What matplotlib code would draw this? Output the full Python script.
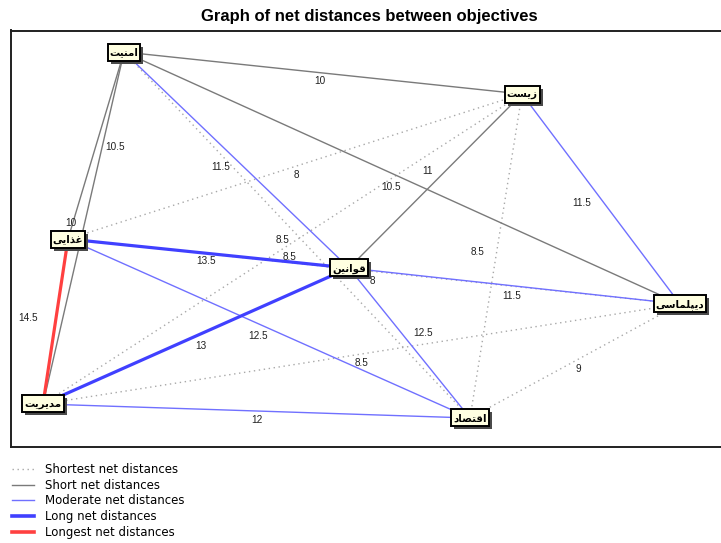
import matplotlib
matplotlib.use("Agg")
import matplotlib.pyplot as plt
from matplotlib.patches import Rectangle
from matplotlib.lines import Line2D

# ── Data ─────────────────────────────────────────────────────────────────────
node_names = ["امنیت", "زیست", "غذایی", "قوانین", "دیپلماسی", "مدیریت", "اقتصاد"]
# layout of the graph (in pixel-like units of the original drawing)
node_x = [124, 522, 68, 349, 680, 43, 470]
node_y = [52, 94, 239, 268, 304, 404, 418]

edge_src = [0, 0, 0, 0, 0, 0, 1, 1, 1, 1, 1, 2, 2, 2, 2, 3, 3, 3, 4, 4, 5]
edge_dst = [1, 2, 3, 4, 5, 6, 2, 3, 4, 5, 6, 3, 4, 5, 6, 4, 5, 6, 5, 6, 6]
edge_val = [10, 10.5, 11.5, 10.5, 10, 8.5, 8, 11, 11.5, 8.5, 8.5,
            13.5, 8, 14.5, 12.5, 11.5, 13, 12.5, 8.5, 9, 12]

cat_names = ["Shortest net distances", "Short net distances", "Moderate net distances",
             "Long net distances", "Longest net distances"]

# ── Styles ───────────────────────────────────────────────────────────────────
cat_styles = [
    dict(color="#a8a8a8", lw=1.0, ls=(0, (1, 2.6))),
    dict(color="#7a7a7a", lw=1.0, ls="-"),
    dict(color="#7070ff", lw=1.0, ls="-"),
    dict(color="#4040ff", lw=2.3, ls="-"),
    dict(color="#ff4040", lw=2.3, ls="-"),
]
# nudges of the value labels from the edge midpoints
label_nudge = [(-3, 8), (19, 1), (-16, 7), (-11, 9), (-13, -5), (-14, 5),
               (1, 8), (-8, -10), (-19, 4), (7, 8), (-18, -4),
               (-2, 8), (-2, 10), (-27, -3), (-11, 8),
               (-3, 10), (5, 10), (14, -10), (0, 9), (3, 8), (0, 9)]


def category(v):
    if v < 10:
        return 0
    if v <= 11:
        return 1
    if v <= 12.5:
        return 2
    if v < 14.5:
        return 3
    return 4


# ── Minimal Arabic/Persian shaping (matplotlib has no complex text layout) ──
FORMS = {  # isolated, final, initial, medial
    "ا": ("\uFE8D", "\uFE8E", None, None),
    "د": ("\uFEA9", "\uFEAA", None, None),
    "ذ": ("\uFEAB", "\uFEAC", None, None),
    "ر": ("\uFEAD", "\uFEAE", None, None),
    "ز": ("\uFEAF", "\uFEB0", None, None),
    "و": ("\uFEED", "\uFEEE", None, None),
    "ت": ("\uFE95", "\uFE96", "\uFE97", "\uFE98"),
    "س": ("\uFEB1", "\uFEB2", "\uFEB3", "\uFEB4"),
    "ص": ("\uFEB9", "\uFEBA", "\uFEBB", "\uFEBC"),
    "غ": ("\uFECD", "\uFECE", "\uFECF", "\uFED0"),
    "ق": ("\uFED5", "\uFED6", "\uFED7", "\uFED8"),
    "ل": ("\uFEDD", "\uFEDE", "\uFEDF", "\uFEE0"),
    "م": ("\uFEE1", "\uFEE2", "\uFEE3", "\uFEE4"),
    "ن": ("\uFEE5", "\uFEE6", "\uFEE7", "\uFEE8"),
    "ی": ("\uFBFC", "\uFBFD", "\uFBFE", "\uFBFF"),
    "پ": ("\uFB56", "\uFB57", "\uFB58", "\uFB59"),
}


def shape(word):
    out = []
    for i, ch in enumerate(word):
        iso, fin, ini, med = FORMS[ch]
        prev_j = i > 0 and FORMS[word[i - 1]][2] is not None
        next_j = i < len(word) - 1 and ini is not None
        if prev_j and next_j:
            out.append(med)
        elif prev_j:
            out.append(fin)
        elif next_j:
            out.append(ini)
        else:
            out.append(iso)
    return "".join(reversed(out))


# ── Figure ───────────────────────────────────────────────────────────────────
W, H = 721, 543
fig = plt.figure(figsize=(W / 100, H / 100), dpi=100)
ax = fig.add_axes([11 / W, 96 / H, (730 - 11) / W, (447 - 30.5) / H])
ax.set_xlim(11, 730)
ax.set_ylim(447, 30.5)
ax.set_xticks([])
ax.set_yticks([])
for s in ax.spines.values():
    s.set_linewidth(1.4)
    s.set_color("#202020")

fig.text(369 / W, 1 - 16 / H, "Graph of net distances between objectives",
         ha="center", va="center", fontsize=12, fontweight="bold",
         family=["Liberation Sans"])

# edges, drawn from the shortest category up so heavy lines sit on top
order = sorted(range(len(edge_val)), key=lambda k: category(edge_val[k]))
for k in order:
    a, b = edge_src[k], edge_dst[k]
    st = cat_styles[category(edge_val[k])]
    ax.plot([node_x[a], node_x[b]], [node_y[a], node_y[b]], color=st["color"],
            lw=st["lw"], ls=st["ls"], zorder=2 + category(edge_val[k]) * 0.1,
            solid_capstyle="butt")

for k in range(len(edge_val)):
    a, b = edge_src[k], edge_dst[k]
    mx = (node_x[a] + node_x[b]) / 2 + label_nudge[k][0]
    my = (node_y[a] + node_y[b]) / 2 + label_nudge[k][1]
    ax.text(mx, my, f"{edge_val[k]:g}", ha="center", va="center", fontsize=7.2,
            color="#202020", family="Liberation Sans", zorder=4)

# nodes: text first, then a box sized to it (1 data unit ≈ 1 pixel here)
node_texts = []
for name, x, y in zip(node_names, node_x, node_y):
    node_texts.append(ax.text(x, y + 0.5, shape(name), ha="center", va="center",
                              fontsize=7.4, fontweight="bold", family=["DejaVu Sans"],
                              zorder=7))
fig.canvas.draw()
rend = fig.canvas.get_renderer()
for t, x, y in zip(node_texts, node_x, node_y):
    w = t.get_window_extent(rend).width + 4
    h = 17
    ax.add_patch(Rectangle((x - w / 2 + 3, y - h / 2 + 3), w, h, fc="#4a4a4a",
                           ec="none", zorder=5))
    ax.add_patch(Rectangle((x - w / 2, y - h / 2), w, h, fc="#ffffe1",
                           ec="black", lw=1.4, zorder=6))

# legend below the frame
handles = [Line2D([], [], color=st["color"], lw=st["lw"] if st["lw"] < 2 else 2.6,
                  ls=st["ls"]) for st in cat_styles]
fig.legend(handles, cat_names, loc="upper left", bbox_to_anchor=(4 / W, 1 - 455 / H),
           frameon=False, handlelength=1.8, handletextpad=1.0,
           labelspacing=0.22, borderpad=0.2, prop={"family": "DejaVu Sans", "size": 8.5})

fig.savefig("out.png", dpi=100)
